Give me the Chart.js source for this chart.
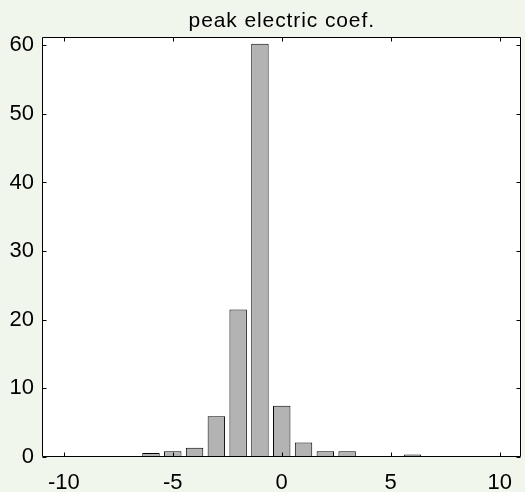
<!DOCTYPE html>
<html>
<head>
<meta charset="utf-8">
<script src="https://cdn.jsdelivr.net/npm/chart.js@4.4.1/dist/chart.umd.min.js"></script>
<style>
  html, body { margin: 0; padding: 0; background: #f1f6ec; }
  #wrap { width: 525px; height: 492px; }
</style>
</head>
<body>
<div id="wrap"><canvas id="c" width="525" height="492"></canvas></div>
<script>
const chartTitle = 'peak electric coef.';
const binCenters = [-10, -9, -8, -7, -6, -5, -4, -3, -2, -1, 0, 1, 2, 3, 4, 5, 6, 7, 8, 9, 10];
const counts     = [0, 0, 0, 0, 0.6, 0.85, 1.34, 5.94, 21.5, 60.2, 7.46, 2.1, 0.85, 0.85, 0, 0, 0.36, 0, 0, 0, 0];
const xTickValues = [-10, -5, 0, 5, 10];
const yTickValues = [0, 10, 20, 30, 40, 50, 60];
const xRange = [-11, 11];
const yRange = [0, 61.2];

const FONT = "'Liberation Sans', Arial, sans-serif";

const framePlugin = {
  id: 'frame',
  beforeDraw(chart) {
    const { ctx, chartArea: a } = chart;
    ctx.save();
    ctx.fillStyle = '#f1f6ec';
    ctx.fillRect(0, 0, chart.width, chart.height);
    ctx.fillStyle = '#ffffff';
    ctx.fillRect(a.left, a.top, a.right - a.left, a.bottom - a.top);
    ctx.restore();
  },
  afterDatasetsDraw(chart) {
    const { ctx, chartArea: a, scales } = chart;
    ctx.save();
    ctx.strokeStyle = '#000';
    ctx.lineWidth = 1;
    const L = Math.round(a.left) + 0.5, R = Math.round(a.right) - 0.5;
    const T = Math.round(a.top) + 0.5, B = Math.round(a.bottom) - 0.5;
    ctx.beginPath();
    ctx.rect(L, T, R - L, B - T);
    ctx.stroke();
    const tl = 4;
    ctx.beginPath();
    xTickValues.forEach(v => {
      const px = Math.round(scales.x.getPixelForValue(v)) + 0.5;
      ctx.moveTo(px, B); ctx.lineTo(px, B - tl);
      ctx.moveTo(px, T); ctx.lineTo(px, T + tl);
    });
    yTickValues.forEach(v => {
      const py = Math.round(scales.y.getPixelForValue(v)) + 0.5;
      ctx.moveTo(L, py); ctx.lineTo(L + tl, py);
      ctx.moveTo(R, py); ctx.lineTo(R - tl, py);
    });
    ctx.stroke();
    ctx.fillStyle = '#000';
    ctx.font = '21px ' + FONT;
    if ('letterSpacing' in ctx) ctx.letterSpacing = '0.9px';
    ctx.textAlign = 'center';
    ctx.textBaseline = 'alphabetic';
    ctx.fillText(chartTitle, (a.left + a.right) / 2, 26.5);
    ctx.restore();
  }
};

new Chart(document.getElementById('c'), {
  type: 'bar',
  data: {
    datasets: [{
      data: binCenters.map((x, i) => ({ x: x, y: counts[i] })),
      backgroundColor: '#b3b3b3',
      borderColor: '#000000',
      borderWidth: 1,
      borderSkipped: false,
      barPercentage: 0.8,
      categoryPercentage: 1.0
    }]
  },
  options: {
    responsive: false,
    animation: false,
    devicePixelRatio: 1,
    layout: { padding: { top: 37, right: 2, left: 0, bottom: 0 } },
    plugins: { legend: { display: false }, title: { display: false }, tooltip: { enabled: false } },
    scales: {
      x: {
        type: 'linear',
        min: xRange[0], max: xRange[1],
        offset: false,
        grid: { display: false, drawTicks: false },
        border: { display: false },
        afterBuildTicks(s) { s.ticks = xTickValues.map(v => ({ value: v })); },
        afterFit(s) { s.height = 35; },
        ticks: { color: '#000', font: { size: 22, family: FONT }, padding: 13, maxRotation: 0, autoSkip: false }
      },
      y: {
        type: 'linear',
        min: yRange[0], max: yRange[1],
        grid: { display: false, drawTicks: false },
        border: { display: false },
        afterBuildTicks(s) { s.ticks = yTickValues.map(v => ({ value: v })); },
        afterFit(s) { s.width = 42; },
        ticks: { color: '#000', font: { size: 22, family: FONT }, padding: 8, autoSkip: false }
      }
    }
  },
  plugins: [framePlugin]
});
</script>
</body>
</html>
